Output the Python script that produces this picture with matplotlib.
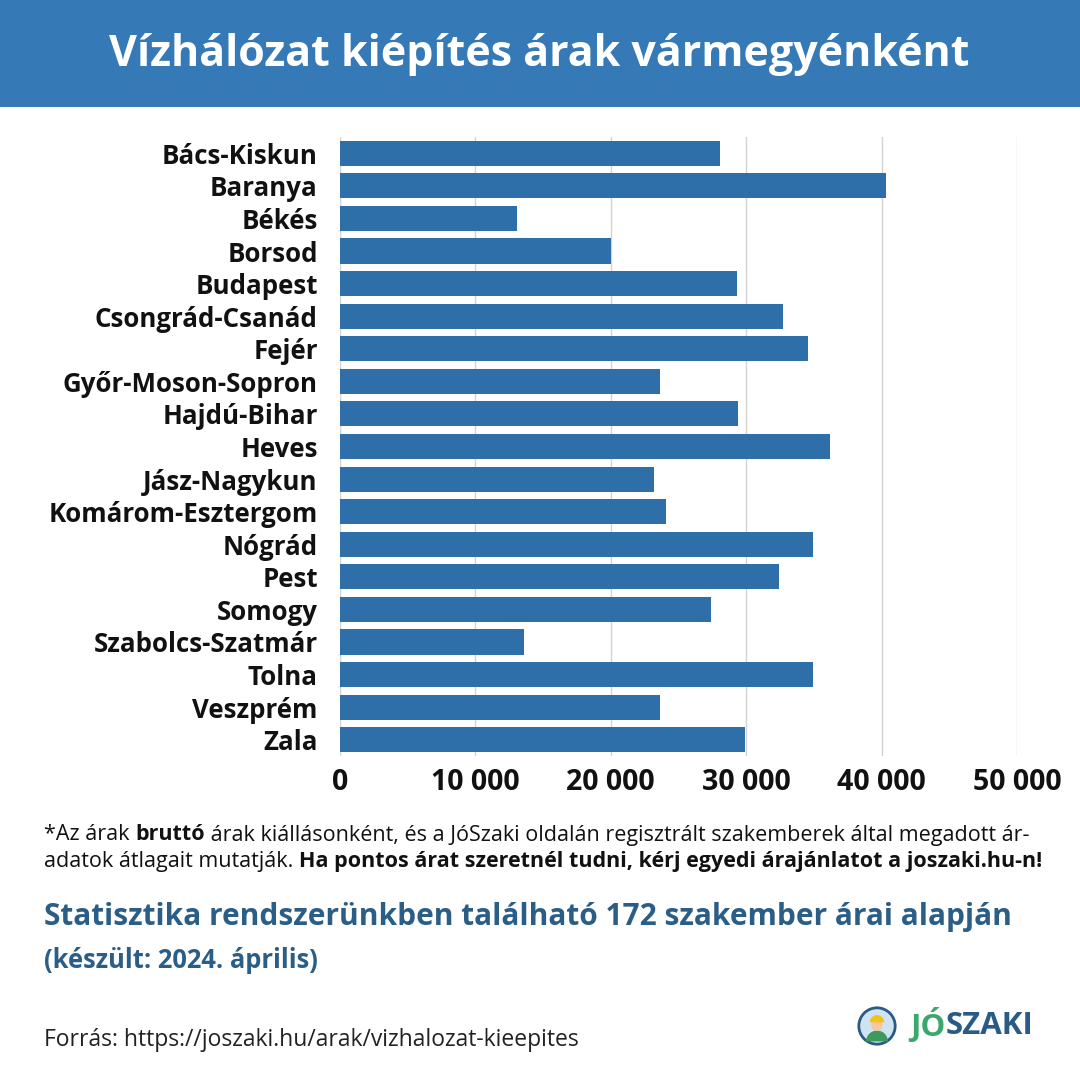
import matplotlib
matplotlib.use("Agg")
import matplotlib.pyplot as plt
from matplotlib.patches import Rectangle, Circle, Wedge
from matplotlib.text import Annotation

plt.rcParams['font.family'] = ['Open Sans', 'DejaVu Sans']

counties = ["Bács-Kiskun", "Baranya", "Békés", "Borsod", "Budapest", "Csongrád-Csanád",
            "Fejér", "Győr-Moson-Sopron", "Hajdú-Bihar", "Heves", "Jász-Nagykun",
            "Komárom-Esztergom", "Nógrád", "Pest", "Somogy", "Szabolcs-Szatmár",
            "Tolna", "Veszprém", "Zala"]
prices = [28100, 40300, 13100, 20000, 29300, 32700, 34600, 23600, 29400, 36200,
          23200, 24100, 34900, 32400, 27400, 13600, 34900, 23600, 29900]
xticks = [0, 10000, 20000, 30000, 40000, 50000]
xtick_labels = ["0", "10 000", "20 000", "30 000", "40 000", "50 000"]

title = "Vízhálózat kiépítés árak vármegyénként"

W = H = 1080
fig = plt.figure(figsize=(10.8, 10.8), dpi=100)
fig.patch.set_facecolor("white")

# Header band
fig.patches.append(Rectangle((0, 1 - 107 / H), 1, 107 / H, transform=fig.transFigure,
                             facecolor="#3579b7", edgecolor="none", zorder=0))
fig.text(539 / W, 1 - 55 / H, title, color="white", fontsize=31, fontweight="bold",
         ha="center", va="center")

ax = fig.add_axes([340 / W, 324 / H, 677 / W, 619 / H])
y = list(range(len(counties)))
ax.barh(y, prices, height=0.77, color="#2e6fa9", zorder=2)
ax.set_ylim(len(counties) - 0.5, -0.5)
ax.set_xlim(0, 50000)
ax.set_xticks(xticks)
ax.set_xticklabels(xtick_labels)
ax.set_yticks(y)
ax.set_yticklabels(counties)
ax.grid(axis="x", color="#d3d3d3", linewidth=1, zorder=0)
ax.set_axisbelow(True)
for s in ax.spines.values():
    s.set_visible(False)
ax.tick_params(axis="both", length=0)
ax.tick_params(axis="x", pad=9, labelsize=20.5)
ax.tick_params(axis="y", pad=16, labelsize=18.6)
for lab in ax.get_xticklabels() + ax.get_yticklabels():
    lab.set_fontweight("bold")
    lab.set_color("#111111")


def chain(x, yy, parts, size, color="#111111"):
    prev = None
    for txt, bold in parts:
        kw = dict(fontsize=size, fontweight="bold" if bold else "normal", color=color,
                  va="center")
        if prev is None:
            prev = fig.text(x, yy, txt, ha="left", **kw)
        else:
            prev = fig.add_artist(Annotation(txt, xy=(1, 0.5), xycoords=prev,
                                             ha="left", **kw))
    return prev


fs = 15.5
chain(44 / W, 1 - 835 / H, [("*Az árak ", False), ("bruttó", True),
      (" árak kiállásonként, és a JóSzaki oldalán regisztrált szakemberek által megadott ár-", False)], fs)
chain(44 / W, 1 - 862 / H, [("adatok átlagait mutatják. ", False),
      ("Ha pontos árat szeretnél tudni, kérj egyedi árajánlatot a joszaki.hu-n!", True)], fs)

fig.text(44 / W, 1 - 917 / H, "Statisztika rendszerünkben található 172 szakember árai alapján",
         fontsize=21.5, fontweight="bold", color="#2b5e87", ha="left", va="center")
fig.text(44 / W, 1 - 961 / H, "(készült: 2024. április)",
         fontsize=18.4, fontweight="bold", color="#2b5e87", ha="left", va="center")
fig.text(44 / W, 1 - 1040 / H, "Forrás: https://joszaki.hu/arak/vizhalozat-kieepites",
         fontsize=16.5, color="#222222", ha="left", va="center")

# Logo
lax = fig.add_axes([857 / W, 1 - 1046 / H, 40 / W, 40 / H])
lax.set_xlim(-1.1, 1.1)
lax.set_ylim(-1.1, 1.1)
lax.set_aspect("equal")
lax.axis("off")
lax.add_patch(Circle((0, 0), 1.0, facecolor="#cfe3f3", edgecolor="#2a5b86", linewidth=2))
lax.add_patch(Wedge((0, -0.85), 0.6, 0, 180, facecolor="#3c9a5f", edgecolor="none"))
lax.add_patch(Circle((0, 0.05), 0.32, facecolor="#f5c9a0", edgecolor="none"))
lax.add_patch(Wedge((0, 0.2), 0.4, 0, 180, facecolor="#f2c21b", edgecolor="none"))
jo = fig.text(910 / W, 1 - 1026 / H, "JÓ", fontsize=22.5, fontweight="bold", color="#3aa86b",
              ha="left", va="center")
fig.add_artist(Annotation("SZAKI", xy=(1, 0.5), xycoords=jo, ha="left", va="center",
                          fontsize=22.5, fontweight="bold", color="#2a5b86"))

fig.savefig("out.png", dpi=100, facecolor="white")
